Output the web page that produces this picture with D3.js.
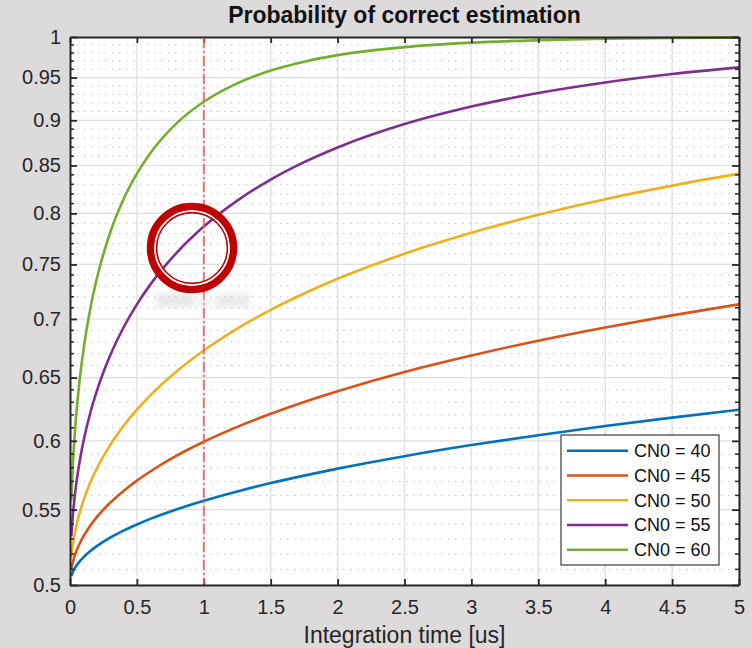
<!DOCTYPE html>
<html>
<head>
<meta charset="utf-8">
<script src="https://cdn.jsdelivr.net/npm/d3@7"></script>
<style>
  html, body { margin: 0; padding: 0; background: #dcdadb; }
  svg { display: block; }
  text { font-family: "Liberation Sans", Arial, Helvetica, sans-serif; }
</style>
</head>
<body>
<svg id="chart" width="752" height="648"></svg>
<script>
// ---- data ----
const tValues = [0.01,0.02,0.04,0.07,0.1,0.15,0.2,0.3,0.4,0.5,0.6,0.8,1,1.25,1.5,1.75,2,2.5,3,3.5,4,4.5,5];
const cn040 = [0.5056,0.5080,0.5113,0.5149,0.5178,0.5218,0.5252,0.5309,0.5356,0.5398,0.5436,0.5503,0.5562,0.5628,0.5688,0.5742,0.5793,0.5885,0.5968,0.6043,0.6114,0.6179,0.6241];
const cn045 = [0.5100,0.5142,0.5201,0.5265,0.5317,0.5388,0.5448,0.5548,0.5632,0.5706,0.5772,0.5890,0.5993,0.6107,0.6209,0.6303,0.6389,0.6546,0.6684,0.6810,0.6925,0.7032,0.7131];
const cn050 = [0.5178,0.5252,0.5356,0.5471,0.5562,0.5688,0.5793,0.5968,0.6114,0.6241,0.6355,0.6554,0.6726,0.6915,0.7081,0.7229,0.7365,0.7603,0.7807,0.7986,0.8145,0.8286,0.8413];
const cn055 = [0.5317,0.5448,0.5632,0.5833,0.5993,0.6209,0.6389,0.6684,0.6925,0.7131,0.7311,0.7616,0.7868,0.8130,0.8350,0.8536,0.8696,0.8957,0.9158,0.9316,0.9441,0.9542,0.9623];
const cn060 = [0.5562,0.5793,0.6114,0.6459,0.6726,0.7081,0.7365,0.7807,0.8145,0.8413,0.8633,0.8971,0.9214,0.9431,0.9584,0.9693,0.9773,0.9873,0.9929,0.9959,0.9977,0.9987,0.9992];
const seriesNames = ["CN0 = 40","CN0 = 45","CN0 = 50","CN0 = 55","CN0 = 60"];
const seriesColors = ["#0072BD","#D95319","#EDB120","#7E2F8E","#77AC30"];
const xTicks = [0,0.5,1,1.5,2,2.5,3,3.5,4,4.5,5];
const xTickLabels = ["0","0.5","1","1.5","2","2.5","3","3.5","4","4.5","5"];
const yTicks = [0.5,0.55,0.6,0.65,0.7,0.75,0.8,0.85,0.9,0.95,1];
const yTickLabels = ["0.5","0.55","0.6","0.65","0.7","0.75","0.8","0.85","0.9","0.95","1"];
const yMinorTicks = d3.range(51,100).map(v => v/100).filter(v => Math.round(v*100) % 5 !== 0);
const markerT = 1;
const titleText = "Probability of correct estimation";
const xLabelText = "Integration time [us]";

const series = [cn040,cn045,cn050,cn055,cn060].map((vals,i) => ({
  name: seriesNames[i], color: seriesColors[i],
  points: tValues.map((t,j) => [t, vals[j]])
}));

// ---- layout ----
const L = 70, R = 739, T = 37, B = 585;
const svg = d3.select("#chart");
const x = d3.scaleLinear().domain([0,5]).range([L,R]);
const y = d3.scaleLog().domain([0.5,1]).range([B,T]);
const ink = "#262626";

svg.append("rect").attr("x",L).attr("y",T).attr("width",R-L).attr("height",B-T).attr("fill","#ffffff");

// minor dotted grid
svg.append("g").selectAll("line").data(yMinorTicks).join("line")
  .attr("x1",L).attr("x2",R).attr("y1",d=>y(d)).attr("y2",d=>y(d))
  .attr("stroke","#c2c2c2").attr("stroke-width",1).attr("stroke-dasharray","1.5,5.5");
// major grid
svg.append("g").selectAll("line").data(yTicks).join("line")
  .attr("x1",L).attr("x2",R).attr("y1",d=>y(d)).attr("y2",d=>y(d))
  .attr("stroke","#dedede").attr("stroke-width",1.2);
svg.append("g").selectAll("line").data(xTicks).join("line")
  .attr("y1",T).attr("y2",B).attr("x1",d=>x(d)).attr("x2",d=>x(d))
  .attr("stroke","#e2e2e2").attr("stroke-width",1.5);

// curves
const line = d3.line().x(d=>x(d[0])).y(d=>y(d[1])).curve(d3.curveMonotoneX);
svg.append("clipPath").attr("id","clipPlot").append("rect")
  .attr("x",L).attr("y",T-1).attr("width",R-L).attr("height",B-T+1);
svg.append("g").attr("clip-path","url(#clipPlot)").selectAll("path").data(series).join("path")
  .attr("d",d=>line(d.points)).attr("fill","none").attr("stroke",d=>d.color).attr("stroke-width",2.6);

// axes (box style, inward ticks)
const xAxisB = d3.axisBottom(x).tickValues(xTicks).tickFormat((d,i)=>xTickLabels[i]).tickSizeInner(-6).tickSizeOuter(0).tickPadding(15);
const xAxisT = d3.axisTop(x).tickValues(xTicks).tickFormat("").tickSizeInner(-6).tickSizeOuter(0);
const yAxisL = d3.axisLeft(y).tickValues(yTicks).tickFormat((d,i)=>yTickLabels[i]).tickSizeInner(-7).tickSizeOuter(0).tickPadding(9);
const yAxisR = d3.axisRight(y).tickValues(yTicks).tickFormat("").tickSizeInner(-7).tickSizeOuter(0);
function styleAxis(g){
  g.select(".domain").attr("stroke",ink).attr("stroke-width",2);
  g.selectAll(".tick line").attr("stroke",ink).attr("stroke-width",1.8);
  g.selectAll(".tick text").attr("fill",ink).attr("font-size",20).attr("font-family","Liberation Sans, Arial, sans-serif");
}
svg.append("g").attr("transform",`translate(0,${B})`).call(xAxisB).call(styleAxis);
svg.append("g").attr("transform",`translate(0,${T})`).call(xAxisT).call(styleAxis);
svg.append("g").attr("transform",`translate(${L},0)`).call(yAxisL).call(styleAxis);
svg.append("g").attr("transform",`translate(${R},0)`).call(yAxisR).call(styleAxis);
// minor ticks on y
[[L,4],[R,-4]].forEach(([xx,len])=>{
  svg.append("g").selectAll("line").data(yMinorTicks).join("line")
    .attr("x1",xx).attr("x2",xx+len).attr("y1",d=>y(d)).attr("y2",d=>y(d))
    .attr("stroke",ink).attr("stroke-width",1.5);
});

// vertical dash-dot marker
svg.append("line").attr("x1",x(markerT)).attr("x2",x(markerT)).attr("y1",T+1).attr("y2",B-1)
  .attr("stroke","#ef5d5d").attr("stroke-opacity",0.85).attr("stroke-width",2)
  .attr("stroke-dasharray","10,3,2,3");

// legend
const lg = svg.append("g");
lg.append("rect").attr("x",561).attr("y",435).attr("width",158).attr("height",130)
  .attr("fill","#ffffff").attr("stroke","#3a3a3a").attr("stroke-width",1.2);
const rowY = d3.scaleLinear().domain([0,4]).range([450.7,549.7]);
series.forEach((s,i)=>{
  lg.append("line").attr("x1",567).attr("x2",628).attr("y1",rowY(i)).attr("y2",rowY(i))
    .attr("stroke",s.color).attr("stroke-width",2.6);
  lg.append("text").attr("x",634).attr("y",rowY(i)).attr("dy","0.35em")
    .attr("font-size",18).attr("fill","#111").text(s.name);
});

// title + x label
svg.append("text").attr("x",(L+R)/2).attr("y",23).attr("text-anchor","middle")
  .attr("font-size",23).attr("font-weight","bold").attr("fill","#111").text(titleText);
svg.append("text").attr("x",(L+R)/2).attr("y",643).attr("text-anchor","middle")
  .attr("font-size",23).attr("fill",ink).text(xLabelText);

// annotation: blurred smudge + red rings
const defs = svg.append("defs");
defs.append("filter").attr("id","blur").attr("x","-50%").attr("y","-100%").attr("width","200%").attr("height","300%")
  .append("feGaussianBlur").attr("stdDeviation",3);
svg.append("rect").attr("x",156).attr("y",294).attr("width",36).attr("height",13)
  .attr("fill","#d4d4d4").attr("opacity",0.55).attr("filter","url(#blur)");
svg.append("rect").attr("x",218).attr("y",294).attr("width",32).attr("height",13)
  .attr("fill","#d4d4d4").attr("opacity",0.5).attr("filter","url(#blur)");
svg.append("rect").attr("x",188).attr("y",296).attr("width",34).attr("height",10)
  .attr("fill","#e2e2e2").attr("opacity",0.4).attr("filter","url(#blur)");

const cx = 192, cy = 248;
svg.append("circle").attr("cx",cx).attr("cy",cy).attr("r",41.5).attr("fill","none")
  .attr("stroke","#c00000").attr("stroke-width",7.5);
svg.append("circle").attr("cx",cx).attr("cy",cy).attr("r",37).attr("fill","none")
  .attr("stroke","#ffffff").attr("stroke-width",1.6);
svg.append("circle").attr("cx",cx).attr("cy",cy).attr("r",35.4).attr("fill","none")
  .attr("stroke","#c00000").attr("stroke-width",1.6);
</script>
</body>
</html>
